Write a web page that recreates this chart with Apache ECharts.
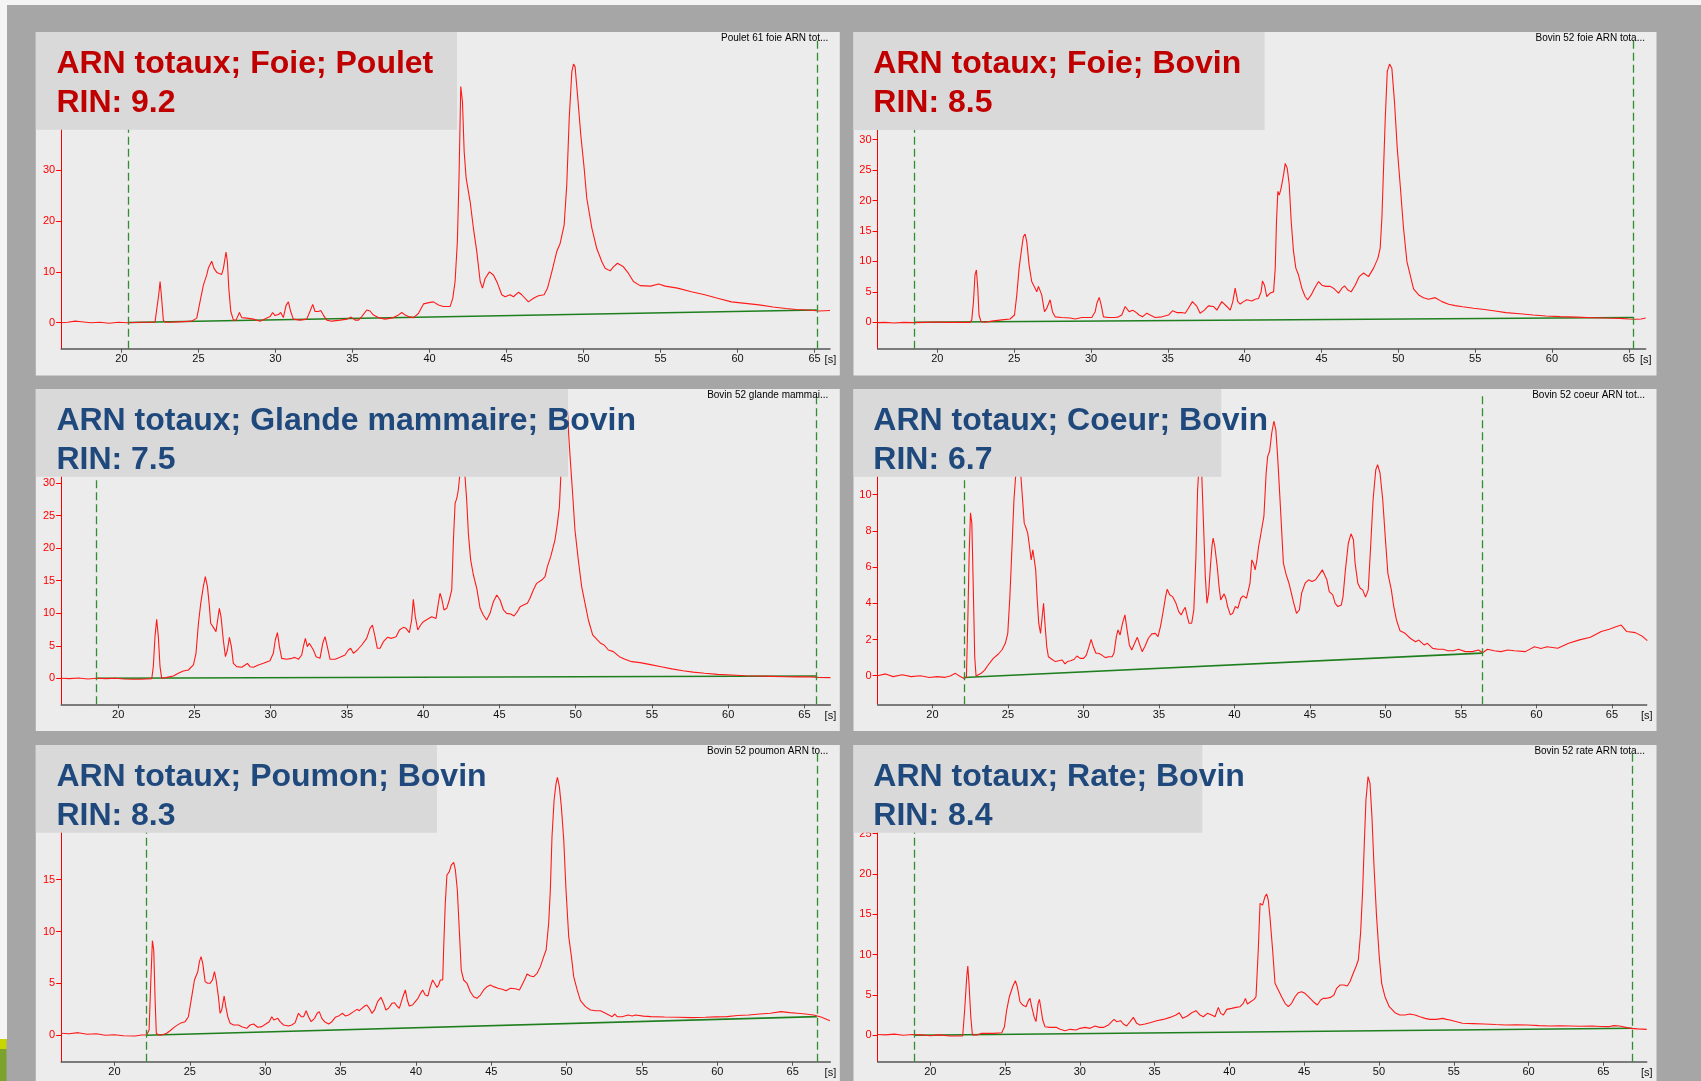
<!DOCTYPE html>
<html>
<head>
<meta charset="utf-8">
<script src="https://cdn.jsdelivr.net/npm/echarts@6/dist/echarts.min.js"></script>
<style>
html,body{margin:0;padding:0;background:#a6a6a6;}
#c{width:1701px;height:1081px;}
</style>
</head>
<body>
<div id="c"></div>
<script>
// Electropherograms (fluorescence vs. migration time in s) of total RNA samples.
const xTicks = [20, 25, 30, 35, 40, 45, 50, 55, 60, 65];

const panelTitles = [
  'ARN totaux; Foie; Poulet',
  'ARN totaux; Foie; Bovin',
  'ARN totaux; Glande mammaire; Bovin',
  'ARN totaux; Coeur; Bovin',
  'ARN totaux; Poumon; Bovin',
  'ARN totaux; Rate; Bovin'
];
const rinLabels = ['RIN: 9.2', 'RIN: 8.5', 'RIN: 7.5', 'RIN: 6.7', 'RIN: 8.3', 'RIN: 8.4'];
const sampleNames = [
  'Poulet 61 foie ARN tot...',
  'Bovin 52 foie ARN tota...',
  'Bovin 52 glande mammai...',
  'Bovin 52 coeur ARN tot...',
  'Bovin 52 poumon ARN to...',
  'Bovin 52 rate ARN tota...'
];

// y tick values per sample
const yTicksFoiePoulet = [0, 10, 20, 30];
const yTicksFoieBovin = [0, 5, 10, 15, 20, 25, 30];
const yTicksGlande = [0, 5, 10, 15, 20, 25, 30];
const yTicksCoeur = [0, 2, 4, 6, 8, 10];
const yTicksPoumon = [0, 5, 10, 15];
const yTicksRate = [0, 5, 10, 15, 20, 25];

// integration window limits (s)
const cutsFoiePoulet = [20.42, 65.14];
const cutsFoieBovin = [18.48, 65.27];
const cutsGlande = [18.58, 65.8];
const cutsCoeur = [22.08, 56.4];
const cutsPoumon = [22.12, 66.6];
const cutsRate = [18.92, 66.95];

// baselines [time, fluorescence]
const baseFoiePoulet = [[20.42, 0.03], [65.14, 2.5]];
const baseFoieBovin = [[18.48, 0.02], [65.27, 0.8]];
const baseGlande = [[18.58, 0.0], [65.8, 0.35]];
const baseCoeur = [[22.08, -0.1], [56.4, 1.25]];
const basePoumon = [[22.12, 0.0], [66.6, 1.8]];
const baseRate = [[18.92, 0.0], [66.95, 0.88]];

// traces [time (s), fluorescence]
const traceFoiePoulet = [[16.1,0.0],[16.5,0.1],[17.0,0.3],[17.4,0.2],[18.0,0.0],[18.6,0.1],[19.2,-0.1],[19.8,0.1],[20.4,0.0],[21.2,0.1],[22.18,0.1],[22.29,0.2],[22.42,5.5],[22.51,8.1],[22.59,5.5],[22.72,0.5],[22.83,0.1],[23.16,0.1],[24.0,0.2],[24.56,0.3],[24.89,0.9],[25.10,4.1],[25.32,7.4],[25.54,9.4],[25.64,10.7],[25.86,12.1],[26.01,10.7],[26.19,9.9],[26.51,9.5],[26.62,10.7],[26.79,13.9],[26.88,12.0],[26.97,6.8],[27.10,2.2],[27.27,0.5],[27.44,0.5],[27.66,2.0],[27.81,1.0],[28.13,0.9],[28.57,0.7],[29.0,0.3],[29.65,1.2],[29.82,2.0],[29.97,1.4],[30.19,1.6],[30.34,2.0],[30.51,1.0],[30.69,3.4],[30.84,4.1],[30.99,2.2],[31.16,0.7],[31.6,0.5],[32.03,0.7],[32.25,2.3],[32.42,3.6],[32.57,2.2],[32.79,2.2],[32.94,2.4],[33.11,1.5],[33.33,0.5],[33.65,0.3],[34.21,0.5],[34.63,0.7],[34.91,1.1],[35.17,0.5],[35.39,0.5],[35.60,1.2],[35.93,2.5],[36.14,2.3],[36.36,1.5],[36.68,1.0],[37.12,0.7],[37.66,1.0],[37.92,1.4],[38.20,2.0],[38.42,1.5],[38.63,1.2],[38.96,1.0],[39.28,1.8],[39.61,3.7],[40.04,4.0],[40.26,4.1],[40.58,3.5],[40.91,3.2],[41.34,3.2],[41.51,4.8],[41.66,8.1],[41.81,16.0],[41.92,29.1],[42.03,46.5],[42.14,43.5],[42.25,33.7],[42.38,28.4],[42.64,23.8],[42.85,18.6],[43.07,14.0],[43.29,8.1],[43.44,6.8],[43.61,8.7],[43.89,10.0],[44.15,9.4],[44.41,7.8],[44.69,5.5],[44.91,5.1],[45.23,5.5],[45.45,5.1],[45.78,6.0],[45.99,5.5],[46.42,4.1],[46.75,4.8],[47.07,5.3],[47.44,5.5],[47.66,6.8],[47.94,10.0],[48.26,14.0],[48.48,15.6],[48.74,19.2],[48.91,27.1],[49.07,40.2],[49.24,49.4],[49.35,50.9],[49.45,50.4],[49.61,44.8],[49.82,37.0],[50.04,30.4],[50.21,24.5],[50.54,18.6],[50.86,14.6],[51.19,12.0],[51.40,10.7],[51.73,10.2],[51.94,11.0],[52.20,11.7],[52.59,11.0],[52.92,9.7],[53.24,8.1],[53.67,7.3],[54.35,7.2],[54.88,7.6],[55.3,7.2],[56.1,6.8],[57.0,6.1],[57.87,5.5],[58.7,4.8],[59.6,4.1],[60.5,3.8],[61.4,3.5],[62.3,3.1],[63.15,2.8],[63.8,2.6],[64.55,2.5],[65.3,2.3],[66.0,2.4]];

const traceFoieBovin = [[16.11,-0.05],[16.6,0.0],[17.2,-0.1],[17.8,0.0],[18.5,-0.05],[19.2,0.0],[19.9,0.05],[20.6,0.0],[21.15,0.0],[22.13,0.0],[22.24,0.4],[22.35,3.4],[22.45,7.8],[22.54,8.6],[22.63,5.6],[22.71,1.2],[22.84,0.1],[23.11,0.0],[23.54,0.2],[24.19,0.4],[24.73,0.55],[25.02,1.2],[25.17,4.5],[25.32,8.9],[25.49,12.2],[25.60,14.1],[25.71,14.5],[25.82,13.2],[25.97,9.4],[26.14,6.7],[26.36,5.6],[26.47,5.0],[26.58,5.9],[26.69,6.2],[26.79,4.5],[26.97,1.75],[27.12,2.3],[27.34,3.7],[27.49,1.75],[27.66,0.9],[28.10,0.8],[28.64,0.7],[28.96,0.55],[29.40,0.8],[30.05,0.8],[30.27,1.75],[30.38,3.1],[30.53,4.1],[30.66,2.85],[30.81,0.9],[31.13,0.8],[31.57,0.8],[31.79,0.9],[32.00,1.2],[32.22,2.6],[32.33,2.7],[32.48,1.75],[32.70,2.0],[32.87,1.75],[33.13,1.2],[33.35,0.9],[33.63,1.5],[33.85,1.2],[34.17,0.8],[34.61,0.9],[35.04,1.2],[35.30,1.9],[35.58,1.6],[35.91,1.6],[36.13,1.5],[36.34,2.3],[36.60,3.4],[36.73,3.7],[36.89,2.6],[37.10,1.5],[37.38,2.0],[37.64,2.7],[37.97,2.6],[38.19,2.0],[38.51,3.4],[38.84,2.6],[39.06,2.0],[39.23,3.4],[39.38,5.6],[39.55,3.4],[39.71,3.0],[39.92,3.4],[40.14,3.7],[40.47,3.5],[40.68,3.8],[40.90,3.9],[41.07,5.0],[41.16,6.8],[41.29,6.1],[41.44,4.2],[41.66,4.8],[41.88,5.0],[41.99,8.9],[42.07,16.5],[42.16,21.5],[42.25,20.9],[42.37,22.0],[42.53,24.2],[42.64,26.1],[42.77,25.3],[42.90,22.6],[43.03,16.5],[43.18,11.6],[43.33,8.9],[43.50,7.8],[43.72,5.6],[43.94,4.2],[44.11,3.7],[44.33,4.5],[44.55,5.6],[44.81,6.7],[45.02,6.1],[45.28,5.9],[45.57,5.9],[45.78,5.6],[46.11,4.8],[46.33,5.6],[46.50,6.0],[46.72,5.3],[46.93,5.0],[47.19,6.1],[47.45,7.5],[47.74,8.1],[48.06,7.5],[48.39,8.9],[48.67,10.5],[48.82,12.2],[48.93,17.1],[49.04,25.3],[49.15,33.5],[49.28,41.2],[49.43,42.4],[49.58,41.7],[49.75,36.2],[49.93,28.6],[50.12,22.6],[50.34,15.4],[50.56,9.96],[50.77,7.8],[50.99,5.5],[51.32,4.5],[51.64,4.05],[51.97,3.8],[52.40,4.05],[52.84,3.4],[53.27,2.96],[53.70,2.74],[54.19,2.56],[54.9,2.3],[55.6,2.1],[56.3,1.85],[57.0,1.6],[57.9,1.4],[58.78,1.2],[59.6,1.05],[60.54,0.93],[61.6,0.85],[62.66,0.76],[63.5,0.7],[64.42,0.65],[65.0,0.55],[65.48,0.5],[65.8,0.55],[66.1,0.7]];

const traceGlande = [[16.26,0.0],[16.8,-0.05],[17.4,0.05],[18.0,-0.1],[18.6,0.0],[19.2,-0.05],[19.8,0.0],[20.4,-0.1],[21.0,-0.15],[21.43,-0.15],[22.20,-0.05],[22.30,1.79],[22.41,6.4],[22.52,9.06],[22.63,6.4],[22.74,1.79],[22.85,0.0],[23.18,0.15],[23.62,0.36],[23.94,0.77],[24.27,1.13],[24.60,1.28],[24.93,2.05],[25.10,3.84],[25.26,8.45],[25.41,11.52],[25.58,14.08],[25.71,15.62],[25.85,14.08],[25.98,11.01],[26.06,8.45],[26.24,7.83],[26.41,7.17],[26.52,8.96],[26.63,10.75],[26.74,9.47],[26.89,5.89],[27.03,3.33],[27.16,4.35],[27.29,6.3],[27.42,4.86],[27.55,2.3],[27.77,1.79],[28.10,1.69],[28.32,2.05],[28.47,2.3],[28.64,1.79],[28.86,1.69],[29.19,2.05],[29.52,2.3],[29.78,2.56],[29.95,2.71],[30.17,3.84],[30.30,5.89],[30.44,7.01],[30.57,4.86],[30.72,3.07],[31.05,2.92],[31.38,3.07],[31.59,3.22],[31.81,2.92],[32.03,3.58],[32.14,4.86],[32.27,6.14],[32.40,4.86],[32.53,5.38],[32.66,5.48],[32.80,4.35],[32.97,3.33],[33.23,3.07],[33.41,5.38],[33.56,6.4],[33.71,4.86],[33.89,2.92],[34.22,2.92],[34.54,3.22],[34.87,3.58],[35.09,4.35],[35.24,4.61],[35.42,3.84],[35.68,4.35],[35.97,5.12],[36.29,6.14],[36.51,7.68],[36.67,8.19],[36.84,6.4],[36.99,4.61],[37.17,4.61],[37.39,5.63],[37.65,6.3],[37.93,6.14],[38.22,6.4],[38.44,7.42],[38.70,7.83],[38.87,7.68],[39.09,7.01],[39.24,8.96],[39.35,12.13],[39.48,9.47],[39.64,7.42],[39.83,8.19],[40.01,8.7],[40.27,9.06],[40.56,9.47],[40.84,9.2],[40.99,11.52],[41.10,13.06],[41.21,12.29],[41.36,10.5],[41.54,10.75],[41.71,12.03],[41.87,13.57],[41.98,21.25],[42.09,26.88],[42.20,27.65],[42.30,28.93],[42.41,31.49],[42.55,40.0],[42.74,30.98],[42.85,27.39],[42.96,22.27],[43.11,18.18],[43.29,15.87],[43.51,13.82],[43.73,10.75],[43.94,9.73],[44.16,8.96],[44.38,9.98],[44.60,11.78],[44.82,12.8],[45.04,12.03],[45.26,10.5],[45.47,9.98],[45.74,9.88],[45.95,9.57],[46.17,10.24],[46.35,11.01],[46.57,11.26],[46.83,11.52],[47.00,12.29],[47.22,13.57],[47.44,14.59],[47.77,15.1],[47.99,15.62],[48.14,17.15],[48.36,18.69],[48.64,21.25],[48.80,23.81],[48.93,26.37],[49.02,30.98],[49.25,52.0],[49.52,38.15],[49.63,34.05],[49.78,28.93],[49.95,22.78],[50.17,18.18],[50.39,14.08],[50.61,11.52],[50.83,8.96],[51.11,6.66],[51.42,5.89],[51.64,5.38],[51.86,5.12],[52.14,4.35],[52.47,4.1],[52.86,3.33],[53.23,2.92],[53.67,2.56],[54.22,2.41],[54.9,2.1],[55.6,1.78],[56.3,1.45],[57.03,1.17],[57.7,0.95],[58.45,0.77],[59.3,0.6],[60.23,0.5],[61.1,0.4],[62.0,0.35],[62.9,0.3],[63.79,0.25],[64.5,0.22],[65.2,0.25],[65.9,0.15],[66.7,0.1]];

const traceCoeur = [[16.37,0.0],[16.9,0.1],[17.4,-0.05],[18.0,0.05],[18.6,-0.05],[19.2,0.0],[19.8,-0.1],[20.3,-0.05],[20.84,-0.09],[21.18,-0.02],[21.52,0.13],[21.79,-0.02],[22.09,-0.15],[22.25,-0.09],[22.34,2.9],[22.43,6.59],[22.52,9.0],[22.61,8.43],[22.71,4.74],[22.80,1.05],[22.89,-0.02],[23.00,-0.05],[23.23,0.13],[23.46,0.31],[23.69,0.59],[24.03,0.96],[24.37,1.2],[24.60,1.42],[24.83,1.79],[24.99,2.34],[25.13,4.37],[25.29,7.51],[25.40,9.72],[25.51,11.01],[25.63,12.12],[25.75,13.2],[25.86,11.01],[25.97,9.72],[26.08,8.43],[26.20,8.16],[26.31,7.88],[26.43,7.14],[26.54,6.4],[26.65,6.96],[26.77,6.96],[26.84,5.85],[26.93,4.37],[27.04,2.9],[27.16,2.34],[27.27,3.27],[27.36,4.0],[27.45,2.9],[27.57,1.61],[27.68,1.05],[27.91,0.91],[28.14,0.78],[28.37,0.83],[28.59,0.87],[28.78,0.65],[28.94,0.78],[29.16,0.83],[29.39,0.91],[29.57,1.09],[29.78,0.96],[30.01,0.96],[30.19,1.14],[30.37,1.61],[30.51,2.01],[30.65,1.61],[30.83,1.24],[30.99,1.24],[31.22,1.14],[31.45,1.0],[31.68,1.05],[31.90,1.05],[32.02,1.24],[32.18,2.16],[32.29,2.53],[32.43,2.25],[32.59,2.9],[32.75,3.36],[32.89,2.53],[33.04,1.7],[33.20,1.42],[33.39,1.79],[33.57,2.12],[33.73,1.7],[33.89,1.33],[34.07,1.61],[34.30,2.07],[34.53,2.31],[34.76,2.34],[34.94,2.16],[35.10,2.71],[35.26,3.45],[35.44,4.37],[35.55,4.78],[35.71,4.47],[35.90,4.37],[36.13,4.0],[36.31,3.54],[36.47,3.36],[36.63,3.63],[36.74,3.78],[36.88,3.27],[36.99,2.9],[37.17,2.9],[37.31,3.63],[37.45,6.59],[37.56,10.27],[37.72,12.5],[37.84,11.01],[37.95,8.43],[38.07,5.48],[38.18,4.0],[38.29,4.56],[38.41,6.03],[38.52,7.23],[38.59,7.6],[38.70,7.14],[38.86,6.03],[38.98,4.93],[39.09,4.19],[39.21,4.37],[39.32,4.52],[39.43,4.28],[39.55,3.82],[39.73,3.36],[39.89,3.45],[40.05,3.82],[40.23,3.73],[40.42,4.28],[40.57,4.41],[40.80,4.28],[40.92,4.37],[41.03,5.11],[41.15,6.4],[41.26,6.22],[41.37,5.85],[41.49,6.4],[41.60,7.14],[41.72,7.69],[41.79,7.69],[41.95,8.8],[42.10,11.2],[42.20,12.12],[42.33,12.4],[42.47,13.41],[42.61,14.06],[42.74,13.6],[42.86,12.12],[42.97,10.46],[43.09,8.62],[43.24,6.22],[43.43,5.57],[43.61,5.11],[43.77,4.56],[43.93,4.0],[44.11,3.45],[44.30,3.63],[44.45,4.56],[44.68,5.11],[44.91,5.3],[45.14,5.2],[45.37,5.3],[45.60,5.57],[45.82,5.85],[45.94,5.85],[46.12,5.3],[46.28,4.65],[46.51,4.47],[46.67,4.0],[46.85,3.82],[47.08,3.91],[47.19,4.37],[47.35,5.85],[47.54,7.32],[47.72,7.84],[47.88,7.51],[47.99,6.22],[48.17,5.11],[48.33,4.83],[48.49,4.74],[48.68,4.34],[48.86,4.74],[49.02,7.14],[49.18,9.72],[49.36,11.38],[49.48,11.66],[49.64,11.2],[49.82,9.72],[50.00,7.51],[50.16,5.66],[50.39,4.74],[50.55,3.82],[50.73,3.08],[50.96,2.49],[51.30,2.34],[51.64,2.07],[51.99,1.88],[52.21,1.97],[52.56,1.70],[52.78,1.79],[53.13,1.51],[53.47,1.46],[53.81,1.46],[54.15,1.38],[54.50,1.38],[54.84,1.46],[55.29,1.33],[55.75,1.33],[56.16,1.42],[56.44,1.27],[56.75,1.46],[57.2,1.38],[57.64,1.33],[58.1,1.42],[58.54,1.38],[59.26,1.33],[59.87,1.6],[60.3,1.5],[60.7,1.6],[61.41,1.52],[62.13,1.79],[62.85,1.98],[63.57,2.12],[64.29,2.44],[64.82,2.57],[65.26,2.71],[65.61,2.8],[65.98,2.44],[66.55,2.38],[66.98,2.2],[67.34,1.94]];

const tracePoumon = [[16.47,0.2],[17.0,0.15],[17.6,0.25],[18.2,0.1],[18.8,0.15],[19.4,0.0],[20.0,0.05],[20.6,-0.05],[21.37,-0.07],[21.81,0.03],[22.14,0.03],[22.30,0.51],[22.41,5.01],[22.52,9.12],[22.61,8.22],[22.70,3.4],[22.78,0.19],[22.92,0.03],[23.14,0.03],[23.47,0.19],[23.69,0.44],[24.02,0.83],[24.36,1.15],[24.69,1.31],[24.91,1.79],[25.13,3.72],[25.31,5.33],[25.53,6.13],[25.64,7.1],[25.75,7.58],[25.86,6.94],[26.02,5.17],[26.19,5.01],[26.35,5.01],[26.50,5.33],[26.64,6.13],[26.75,5.33],[26.90,3.72],[27.01,2.12],[27.12,2.44],[27.28,3.79],[27.39,2.76],[27.52,1.79],[27.68,1.15],[27.90,0.99],[28.23,0.99],[28.45,0.83],[28.78,0.67],[29.00,0.99],[29.23,1.09],[29.51,0.77],[29.78,0.83],[30.04,1.09],[30.27,1.31],[30.44,1.79],[30.58,1.47],[30.71,1.41],[30.84,1.63],[30.99,1.31],[31.22,0.99],[31.55,0.89],[31.77,0.99],[31.99,1.22],[32.21,2.12],[32.39,1.79],[32.55,1.79],[32.72,2.37],[32.88,1.79],[33.05,1.31],[33.28,1.63],[33.45,2.12],[33.59,2.28],[33.76,1.63],[33.94,1.31],[34.21,1.09],[34.43,1.31],[34.65,1.73],[34.91,1.89],[35.14,2.12],[35.31,1.86],[35.53,1.95],[35.87,2.28],[36.09,2.5],[36.24,2.37],[36.42,2.6],[36.60,2.82],[36.75,2.92],[36.91,2.6],[37.08,2.12],[37.26,2.44],[37.46,3.24],[37.68,3.66],[37.86,3.08],[38.01,2.44],[38.19,2.6],[38.41,3.08],[38.59,3.14],[38.74,2.82],[38.90,2.6],[39.03,2.44],[39.14,3.72],[39.30,4.37],[39.43,3.4],[39.56,2.82],[39.78,2.92],[39.96,3.24],[40.14,3.56],[40.31,4.04],[40.45,4.37],[40.62,3.88],[40.80,3.79],[40.96,4.69],[41.11,5.33],[41.24,5.01],[41.40,4.62],[41.51,4.85],[41.62,5.33],[41.78,5.33],[41.84,8.22],[41.95,12.72],[42.06,15.46],[42.22,15.78],[42.35,16.42],[42.51,16.68],[42.62,15.94],[42.75,14.01],[42.88,10.15],[43.01,6.29],[43.17,5.33],[43.39,5.01],[43.61,4.2],[43.83,3.72],[44.05,3.56],[44.28,3.88],[44.50,4.37],[44.72,4.69],[44.94,4.85],[45.16,4.69],[45.45,4.53],[45.73,4.43],[45.98,4.3],[46.27,4.53],[46.60,4.49],[46.87,4.37],[47.04,4.85],[47.26,5.49],[47.37,5.91],[47.60,5.72],[47.82,5.65],[48.04,5.97],[48.26,6.62],[48.48,7.58],[48.64,8.22],[48.81,10.8],[48.92,14.01],[49.03,19.15],[49.17,22.69],[49.30,24.3],[49.39,24.87],[49.52,23.97],[49.65,22.05],[49.81,18.83],[49.96,14.01],[50.14,9.51],[50.32,7.58],[50.47,5.65],[50.70,4.37],[50.92,3.34],[51.25,2.76],[51.58,2.44],[51.91,2.37],[52.24,2.37],[52.58,2.12],[52.80,1.95],[53.02,1.79],[53.20,2.05],[53.35,1.79],[53.68,1.79],[54.08,1.95],[54.35,1.86],[54.57,1.95],[55.1,1.85],[55.59,1.8],[56.5,1.76],[57.39,1.73],[58.3,1.7],[59.19,1.73],[59.9,1.77],[60.63,1.8],[61.35,1.9],[62.07,1.96],[62.8,2.05],[63.51,2.12],[64.23,2.28],[64.8,2.18],[65.31,2.12],[65.85,2.05],[66.39,1.96],[66.92,1.73],[67.47,1.41]];

const traceRate = [[16.48,0.1],[17.0,0.05],[17.6,0.15],[18.2,0.0],[18.8,0.1],[19.4,0.05],[20.0,-0.05],[20.6,0.05],[21.32,-0.09],[22.17,-0.09],[22.30,3.13],[22.44,7.26],[22.51,8.58],[22.59,6.44],[22.71,2.3],[22.82,0.03],[23.11,0.03],[23.44,0.24],[23.77,0.24],[24.22,0.24],[24.78,0.32],[24.96,1.07],[25.11,3.13],[25.29,4.78],[25.51,6.02],[25.69,6.77],[25.82,6.02],[26.00,4.16],[26.18,3.75],[26.40,3.54],[26.56,4.29],[26.67,4.58],[26.78,3.54],[26.94,2.3],[27.07,1.69],[27.21,3.96],[27.30,4.45],[27.38,3.54],[27.52,1.89],[27.67,1.07],[28.01,0.98],[28.45,0.98],[28.68,0.74],[29.01,0.57],[29.35,0.74],[29.75,0.65],[30.01,0.86],[30.35,0.98],[30.68,0.86],[31.02,1.15],[31.31,0.98],[31.57,0.98],[31.91,1.27],[32.13,1.69],[32.29,1.97],[32.46,1.69],[32.73,1.81],[32.91,1.4],[33.13,1.15],[33.36,1.69],[33.58,2.22],[33.80,1.48],[34.02,1.27],[34.36,1.4],[34.69,1.56],[35.14,1.81],[35.58,1.97],[36.03,2.22],[36.43,2.51],[36.65,2.8],[36.88,2.1],[37.19,2.39],[37.48,2.8],[37.77,3.05],[38.04,2.51],[38.26,2.3],[38.53,2.72],[38.82,2.51],[39.04,2.3],[39.26,3.46],[39.42,2.72],[39.60,2.51],[39.82,3.21],[40.15,3.34],[40.44,3.46],[40.71,3.54],[40.93,3.96],[41.07,4.58],[41.20,3.88],[41.42,4.16],[41.65,4.45],[41.78,4.78],[41.93,10.57],[42.05,16.35],[42.22,16.14],[42.38,17.18],[42.49,17.51],[42.60,16.76],[42.71,14.7],[42.89,10.57],[43.05,6.44],[43.27,5.61],[43.49,4.78],[43.72,3.96],[43.94,3.54],[44.16,3.96],[44.39,4.78],[44.61,5.28],[44.83,5.4],[45.05,5.2],[45.28,4.78],[45.61,4.16],[45.88,3.75],[46.10,4.37],[46.28,4.58],[46.50,4.58],[46.77,4.7],[46.99,4.99],[47.17,5.82],[47.39,6.23],[47.66,6.23],[47.88,6.11],[48.06,6.64],[48.28,7.68],[48.46,8.5],[48.62,9.33],[48.77,12.63],[48.91,18.0],[49.02,23.78],[49.13,29.15],[49.27,32.05],[49.40,31.22],[49.53,27.09],[49.67,20.89],[49.84,14.7],[50.02,9.74],[50.18,6.44],[50.40,4.78],[50.69,3.54],[51.07,2.8],[51.40,2.51],[51.74,2.51],[52.07,2.63],[52.41,2.51],[52.74,2.3],[53.08,2.1],[53.41,1.97],[53.86,1.97],[54.26,2.1],[54.52,1.97],[54.75,1.89],[55.58,1.49],[56.3,1.45],[57.03,1.4],[57.8,1.33],[58.48,1.28],[59.2,1.3],[59.93,1.28],[60.7,1.2],[61.38,1.15],[62.1,1.18],[62.83,1.15],[63.5,1.12],[64.27,1.15],[64.8,1.1],[65.36,1.07],[65.7,1.2],[66.08,1.15],[66.81,0.86],[67.3,0.8],[67.9,0.74]];

const traces = [traceFoiePoulet, traceFoieBovin, traceGlande, traceCoeur, tracePoumon, traceRate];
const baselines = [baseFoiePoulet, baseFoieBovin, baseGlande, baseCoeur, basePoumon, baseRate];
const cuts = [cutsFoiePoulet, cutsFoieBovin, cutsGlande, cutsCoeur, cutsPoumon, cutsRate];
const yTicks = [yTicksFoiePoulet, yTicksFoieBovin, yTicksGlande, yTicksCoeur, yTicksPoumon, yTicksRate];

// Page geometry: panel frame, plot rectangle [l, t, r, b], axis ranges, title box size, title ink.
const RED = '#c00000', BLUE = '#1f497d';
const frames = [
  {x: 35.8,  y: 32,  w: 804, h: 343.5, plot: [61.2, 37.7, 830.0, 348.7],   xr: [16.09, 66.0], yr: [-5.12, 56.1],  box: [421.2, 97.7], ink: RED},
  {x: 853.5, y: 32,  w: 803, h: 343.5, plot: [877.6, 37.7, 1645.7, 348.7], xr: [16.11, 66.1], yr: [-4.33, 46.73], box: [411.1, 98],   ink: RED},
  {x: 35.8,  y: 389, w: 804, h: 342,   plot: [61.2, 393.3, 830.4, 704.3],  xr: [16.26, 66.7], yr: [-3.99, 43.78], box: [532.2, 87.7], ink: BLUE},
  {x: 853.5, y: 389, w: 803, h: 342,   plot: [877.6, 395, 1646.7, 704.3],  xr: [16.37, 67.3], yr: [-1.58, 15.51], box: [367.8, 87.7], ink: BLUE},
  {x: 35.8,  y: 745, w: 804, h: 340,   plot: [61.2, 752, 830.4, 1061.7],   xr: [16.47, 67.5], yr: [-2.55, 27.32], box: [401.1, 87.7], ink: BLUE},
  {x: 853.5, y: 745, w: 803, h: 340,   plot: [877.6, 752, 1646.7, 1061.7], xr: [16.48, 67.9], yr: [-3.27, 35.1],  box: [348.8, 87.7], ink: BLUE}
];

const FONT = '"Liberation Sans", Arial, Helvetica, sans-serif';

const grids = [], xAxes = [], yAxes = [], series = [], graphics = [];

// page chrome
graphics.push({type: 'rect', z: -20, shape: {x: 0, y: 0, width: 1701, height: 5}, style: {fill: '#f4f4f4'}});
graphics.push({type: 'rect', z: -20, shape: {x: 0, y: 0, width: 7, height: 1039}, style: {fill: '#f4f4f4'}});
graphics.push({type: 'rect', z: -20, shape: {x: 0, y: 1039, width: 6.5, height: 10}, style: {fill: '#c9d600'}});
graphics.push({type: 'rect', z: -20, shape: {x: 0, y: 1049, width: 6.5, height: 32}, style: {fill: '#7aa22c'}});

frames.forEach((f, i) => {
  const [l, t, r, b] = f.plot;
  grids.push({left: l, top: t, width: r - l, height: b - t, containLabel: false, outerBoundsMode: 'none', show: false});

  xAxes.push({
    type: 'value', gridIndex: i, min: f.xr[0], max: f.xr[1],
    axisLine: {show: true, onZero: false, lineStyle: {color: '#555555', width: 1.5}},
    axisTick: {show: true, length: 4, lineStyle: {color: '#555555'}, customValues: xTicks},
    axisLabel: {color: '#111111', fontSize: 11, fontFamily: FONT, margin: 5, customValues: xTicks},
    splitLine: {show: false},
    name: '[s]', nameLocation: 'end', nameGap: 0,
    nameTextStyle: {color: '#111111', fontSize: 11, fontFamily: FONT, align: 'center', verticalAlign: 'top', padding: [6, 0, 0, 0]}
  });

  yAxes.push({
    type: 'value', gridIndex: i, min: f.yr[0], max: f.yr[1],
    axisLine: {show: true, onZero: false, lineStyle: {color: '#ff0000', width: 1}},
    axisTick: {show: true, length: 5, lineStyle: {color: '#ff0000'}, customValues: yTicks[i]},
    axisLabel: {color: '#ff0000', fontSize: 11, fontFamily: FONT, margin: 6, customValues: yTicks[i]},
    splitLine: {show: false}
  });

  // baseline with the integration window markers
  series.push({
    type: 'line', xAxisIndex: i, yAxisIndex: i, data: baselines[i],
    symbol: 'none', silent: true, z: 2,
    lineStyle: {color: '#1f7f1f', width: 1.6},
    markLine: {
      silent: true, symbol: ['none', 'none'], label: {show: false},
      lineStyle: {color: '#2f8f2f', type: [8, 4], width: 1.3},
      data: cuts[i].map(v => ({xAxis: v}))
    }
  });

  // electropherogram trace
  series.push({
    type: 'line', xAxisIndex: i, yAxisIndex: i, data: traces[i],
    symbol: 'none', showSymbol: false, clip: true, z: 3,
    lineStyle: {color: '#ff1a1a', width: 1.1}
  });

  // panel background, title box and texts
  graphics.push({type: 'rect', z: -10, shape: {x: f.x, y: f.y, width: f.w, height: f.h}, style: {fill: '#ececec'}});
  graphics.push({type: 'rect', z: 50, shape: {x: f.x, y: f.y, width: f.box[0], height: f.box[1]}, style: {fill: '#d9d9d9'}});
  const tx = f.x + (i % 2 === 0 ? 20.6 : 19.8);
  graphics.push({type: 'text', z: 51, x: tx, y: f.y + 32.5,
    style: {text: panelTitles[i], fill: f.ink, font: 'bold 32px ' + FONT, textAlign: 'left', textVerticalAlign: 'middle', align: 'left', verticalAlign: 'middle'}});
  graphics.push({type: 'text', z: 51, x: tx, y: f.y + 71,
    style: {text: rinLabels[i], fill: f.ink, font: 'bold 32px ' + FONT, textAlign: 'left', textVerticalAlign: 'middle', align: 'left', verticalAlign: 'middle'}});
  graphics.push({type: 'text', z: 51, x: f.x + f.w - 11.5, y: f.y + 6.5,
    style: {text: sampleNames[i], fill: '#000000', font: '10px ' + FONT, textAlign: 'right', textVerticalAlign: 'middle', align: 'right', verticalAlign: 'middle'}});
});

const chart = echarts.init(document.getElementById('c'), null, {renderer: 'canvas', width: 1701, height: 1081});
chart.setOption({
  animation: false,
  backgroundColor: '#a6a6a6',
  grid: grids,
  xAxis: xAxes,
  yAxis: yAxes,
  series: series,
  graphic: {elements: graphics}
});
</script>
</body>
</html>
